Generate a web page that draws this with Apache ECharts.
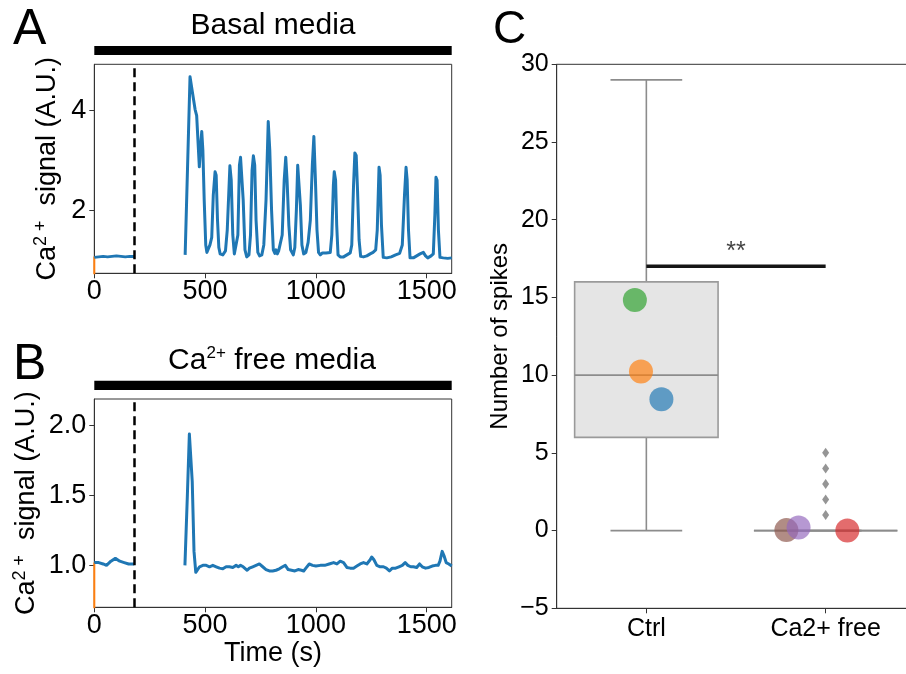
<!DOCTYPE html>
<html>
<head>
<meta charset="utf-8">
<script src="https://cdn.jsdelivr.net/npm/echarts@6/dist/echarts.min.js"></script>
<style>
  html, body { margin: 0; padding: 0; background: #fff; }
  #chart { width: 906px; height: 674px; }
</style>
</head>
<body>
<div id="chart"></div>
<script>
// ---------------- DATA ----------------
// Panel A: Basal media trace [time (s), Ca2+ signal (A.U.)]
const basalPre = [[0,1.05],[20,1.06],[40,1.07],[60,1.06],[80,1.07],[100,1.08],[120,1.07],[140,1.06],[160,1.07],[180,1.07]];
const basalPost = [
  [410,1.10],[432,4.68],[440,4.45],[455,4.02],[462,3.90],[474,2.87],[480,3.30],[485,3.58],[490,3.20],[496,2.20],
  [503,1.30],[508,1.15],[515,1.18],[522,1.30],[530,1.45],[537,2.30],[545,2.77],[550,2.70],[556,1.80],[562,1.25],
  [568,1.12],[580,1.10],[592,1.18],[600,1.60],[612,2.89],[618,2.60],[625,1.50],[632,1.12],[640,1.10],[648,1.50],
  [655,2.90],[660,3.06],[666,3.08],[672,2.20],[680,1.20],[688,1.06],[698,1.10],[705,1.50],[712,2.80],[718,3.09],
  [724,2.90],[730,1.80],[738,1.15],[746,1.08],[756,1.10],[765,1.30],[775,2.20],[785,3.78],[792,3.20],[800,2.00],
  [808,1.20],[815,1.13],[820,1.20],[826,1.12],[832,1.18],[840,1.15],[848,1.50],[857,2.60],[864,3.06],[870,2.60],
  [878,1.70],[886,1.20],[898,1.10],[905,1.25],[912,2.00],[918,2.90],[924,2.93],[930,2.10],[937,1.30],[945,1.12],
  [955,1.15],[965,1.35],[975,1.80],[984,2.90],[991,3.48],[998,2.60],[1005,1.60],[1012,1.15],[1020,1.10],[1030,1.14],
  [1038,1.12],[1046,1.14],[1055,1.12],[1065,1.15],[1072,1.50],[1079,2.50],[1083,2.77],[1089,2.60],[1094,1.70],[1100,1.10],
  [1110,1.06],[1125,1.06],[1140,1.10],[1155,1.14],[1162,1.30],[1170,2.50],[1176,3.15],[1182,3.10],[1188,2.40],[1195,1.40],
  [1202,1.07],[1215,1.06],[1230,1.08],[1245,1.12],[1258,1.15],[1270,1.20],[1277,1.60],[1285,2.86],[1290,2.70],[1296,1.70],
  [1304,1.05],[1320,1.04],[1340,1.06],[1360,1.10],[1378,1.13],[1390,1.30],[1400,2.30],[1407,2.86],[1412,2.60],[1418,1.60],
  [1425,1.04],[1440,1.04],[1455,1.08],[1470,1.12],[1485,1.15],[1495,1.08],[1505,1.04],[1520,1.08],[1530,1.12],[1537,1.90],
  [1542,2.66],[1547,2.60],[1553,1.60],[1560,1.05],[1575,1.04],[1595,1.03],[1613,1.04]
];
const basalOrange = [[0,0.5],[0,1.07]];

// Panel B: Ca2+ free media trace
const freePre = [[0,1.02],[20,1.02],[40,1.01],[55,1.00],[75,1.03],[95,1.05],[115,1.03],[135,1.02],[155,1.01],[180,1.01]];
const freePost = [
  [409,1.00],[420,1.50],[429,1.94],[437,1.94],[442,1.60],[450,1.10],[458,0.95],[465,0.95],[475,0.99],[490,1.00],
  [505,1.00],[520,0.99],[535,1.00],[550,0.99],[565,0.98],[580,0.975],[595,0.99],[610,0.99],[625,0.985],[640,1.00],
  [650,0.99],[660,1.00],[672,0.99],[680,1.00],[690,0.965],[700,0.98],[715,0.99],[730,1.00],[745,1.01],[760,0.99],
  [775,0.97],[790,0.96],[805,0.96],[820,0.965],[835,0.975],[850,0.99],[862,1.00],[875,0.97],[890,0.965],[905,0.96],
  [920,0.97],[935,0.965],[945,0.96],[955,0.98],[970,1.01],[985,1.00],[1000,0.995],[1020,1.00],[1040,1.00],[1060,1.01],
  [1080,1.02],[1095,1.01],[1110,1.03],[1125,1.02],[1140,0.985],[1155,0.98],[1170,0.98],[1185,0.995],[1200,1.01],[1215,1.02],
  [1230,1.01],[1245,1.04],[1252,1.06],[1262,1.04],[1275,1.00],[1290,0.99],[1305,0.99],[1318,0.98],[1332,0.96],[1345,0.98],
  [1360,0.98],[1375,0.99],[1390,1.00],[1403,1.02],[1415,1.00],[1428,0.99],[1440,0.99],[1455,0.985],[1468,1.01],[1480,0.99],
  [1495,0.98],[1510,0.985],[1525,0.995],[1540,1.00],[1552,1.00],[1560,1.03],[1570,1.10],[1578,1.07],[1588,1.02],[1600,1.01],
  [1613,0.995]
];
const freeOrange = [[0,0.5],[0,1.02]];
const stimTime = 180;

// Panel C: number of spikes
const groups = ['Ctrl', 'Ca2+ free'];
// [whiskerLow, Q1, median, Q3, whiskerHigh]
const boxStats = [[0, 6, 10, 16, 29], [0, 0, 0, 0, 0]];
const outliers = [[1,1],[1,2],[1,3],[1,4],[1,5]];
// individual experiment means [x (category + jitter), value]
const dotPoints = [
  [-0.064, 14.84], [-0.030, 10.23], [0.084, 8.45],
  [0.781, 0.03], [0.849, 0.2], [1.121, 0.0]
];
const dotColors = ['#2ca02c', '#ff7f0e', '#1f77b4', '#8c564b', '#9467bd', '#d62728'];
const sigBar = [[0, 17], [1, 17]];
const sigLabel = '**';
const xTicksTime = [0, 500, 1000, 1500];
const yTicksA = [2, 4];
const yTicksB = [1.0, 1.5, 2.0];

// ---------------- CHART ----------------
const FF = "'Liberation Sans', Arial, Helvetica, sans-serif";
const spine = '#333333';
const chart = echarts.init(document.getElementById('chart'), null, { renderer: 'canvas' });

function timeXAxis(gridIndex, extra) {
  return Object.assign({
    gridIndex, type: 'value', min: 0, max: 1613,
    axisLine: { show: true, onZero: false, lineStyle: { color: spine, width: 1 } },
    axisTick: { show: true, length: 5, lineStyle: { color: spine }, customValues: xTicksTime },
    axisLabel: { fontSize: 27, color: '#000', margin: 5, fontFamily: FF, customValues: xTicksTime, formatter: v => String(v) },
    splitLine: { show: false }
  }, extra || {});
}

const supRich = {
  a: { fontSize: 27, fontFamily: FF, color: '#000', lineHeight: 30 },
  s: { fontSize: 18, fontFamily: FF, color: '#000', verticalAlign: 'top', lineHeight: 18 }
};

const option = {
  animation: false,
  backgroundColor: '#fff',
  textStyle: { fontFamily: FF },
  grid: [
    { left: 94.3, top: 64.3, width: 357.4, height: 209, outerBoundsMode: 'none', containLabel: false, show: true, borderColor: spine, borderWidth: 1, backgroundColor: 'transparent' },
    { left: 94.3, top: 399, width: 357.4, height: 208.3, outerBoundsMode: 'none', containLabel: false, show: true, borderColor: spine, borderWidth: 1, backgroundColor: 'transparent' },
    { left: 556.7, top: 64.3, width: 358.6, height: 544, outerBoundsMode: 'none', containLabel: false, show: true, borderColor: spine, borderWidth: 1, backgroundColor: 'transparent' }
  ],
  xAxis: [
    timeXAxis(0),
    timeXAxis(1, { name: 'Time (s)', nameLocation: 'middle', nameGap: 33, nameTextStyle: { fontSize: 27, color: '#000', fontFamily: FF } }),
    {
      gridIndex: 2, type: 'category', data: groups, boundaryGap: true,
      axisLine: { show: true, onZero: false, lineStyle: { color: spine } },
      axisTick: { show: true, alignWithLabel: true, length: 5, lineStyle: { color: spine } },
      axisLabel: { fontSize: 25, color: '#000', margin: 8, fontFamily: FF },
      splitLine: { show: false }
    },
    { gridIndex: 2, type: 'value', min: -0.5, max: 1.5, show: false, axisLine: { onZero: false }, splitLine: { show: false } }
  ],
  yAxis: [
    {
      gridIndex: 0, type: 'value', min: 0.73, max: 4.93,
      axisLine: { show: true, onZero: false, lineStyle: { color: spine } },
      axisTick: { show: true, length: 5, lineStyle: { color: spine }, customValues: yTicksA },
      axisLabel: { fontSize: 27, color: '#000', margin: 8, fontFamily: FF, customValues: yTicksA },
      splitLine: { show: false },
      name: '{a|Ca}{s|2 +}{a|  signal (A.U.)}', nameLocation: 'middle', nameGap: 32,
      nameTextStyle: { rich: supRich }
    },
    {
      gridIndex: 1, type: 'value', min: 0.70, max: 2.19,
      axisLine: { show: true, onZero: false, lineStyle: { color: spine } },
      axisTick: { show: true, length: 5, lineStyle: { color: spine }, customValues: yTicksB },
      axisLabel: { fontSize: 27, color: '#000', margin: 8, fontFamily: FF, customValues: yTicksB, formatter: v => Number(v).toFixed(1) },
      splitLine: { show: false },
      name: '{a|Ca}{s|2 +}{a|  signal (A.U.)}', nameLocation: 'middle', nameGap: 53,
      nameTextStyle: { rich: supRich }
    },
    {
      gridIndex: 2, type: 'value', min: -5, max: 30, interval: 5,
      axisLine: { show: true, onZero: false, lineStyle: { color: spine } },
      axisTick: { show: true, length: 5, lineStyle: { color: spine } },
      axisLabel: { fontSize: 25, color: '#000', margin: 8, fontFamily: FF, formatter: v => v < 0 ? '\u2212' + Math.abs(v) : String(v) },
      splitLine: { show: false },
      name: 'Number of spikes', nameLocation: 'middle', nameGap: 44,
      nameTextStyle: { fontSize: 24, color: '#000', fontFamily: FF }
    }
  ],
  series: [
    // Panel A
    { type: 'line', xAxisIndex: 0, yAxisIndex: 0, data: basalOrange, symbol: 'none', lineStyle: { color: '#ff7f0e', width: 2 }, z: 2 },
    { type: 'line', xAxisIndex: 0, yAxisIndex: 0, data: basalPre, symbol: 'none', lineStyle: { color: '#1f77b4', width: 3 }, z: 3,
      markLine: { silent: true, symbol: 'none', label: { show: false }, lineStyle: { color: '#000', width: 2.5, type: [9, 5] }, data: [{ xAxis: stimTime }] } },
    { type: 'line', xAxisIndex: 0, yAxisIndex: 0, data: basalPost, symbol: 'none', lineStyle: { color: '#1f77b4', width: 3, join: 'round' }, z: 3 },
    // Panel B
    { type: 'line', xAxisIndex: 1, yAxisIndex: 1, data: freeOrange, symbol: 'none', lineStyle: { color: '#ff7f0e', width: 2 }, z: 2 },
    { type: 'line', xAxisIndex: 1, yAxisIndex: 1, data: freePre, symbol: 'none', lineStyle: { color: '#1f77b4', width: 3 }, z: 3,
      markLine: { silent: true, symbol: 'none', label: { show: false }, lineStyle: { color: '#000', width: 2.5, type: [9, 5] }, data: [{ xAxis: stimTime }] } },
    { type: 'line', xAxisIndex: 1, yAxisIndex: 1, data: freePost, symbol: 'none', lineStyle: { color: '#1f77b4', width: 3, join: 'round' }, z: 3 },
    // Panel C box plot
    {
      type: 'custom', xAxisIndex: 3, yAxisIndex: 2, z: 2,
      data: boxStats.map((s, i) => [i].concat(s)),
      renderItem: function (params, api) {
        const i = api.value(0);
        const lo = api.coord([i, api.value(1)]);
        const q1 = api.coord([i, api.value(2)]);
        const med = api.coord([i, api.value(3)]);
        const q3 = api.coord([i, api.value(4)]);
        const hi = api.coord([i, api.value(5)]);
        const band = api.size([1, 0])[0];
        const hw = band * 0.4, cw = band * 0.2;
        const cx = med[0];
        const st = { stroke: '#8c8c8c', lineWidth: 1.6 };
        return {
          type: 'group',
          children: [
            { type: 'line', shape: { x1: cx, y1: q1[1], x2: cx, y2: lo[1] }, style: st },
            { type: 'line', shape: { x1: cx, y1: q3[1], x2: cx, y2: hi[1] }, style: st },
            { type: 'line', shape: { x1: cx - cw, y1: lo[1], x2: cx + cw, y2: lo[1] }, style: st },
            { type: 'line', shape: { x1: cx - cw, y1: hi[1], x2: cx + cw, y2: hi[1] }, style: st },
            { type: 'rect', shape: { x: cx - hw, y: q3[1], width: 2 * hw, height: q1[1] - q3[1] }, style: { fill: '#e5e5e5', stroke: '#9a9a9a', lineWidth: 1.6 } },
            { type: 'line', shape: { x1: cx - hw, y1: med[1], x2: cx + hw, y2: med[1] }, style: st }
          ]
        };
      }
    },
    { type: 'scatter', xAxisIndex: 3, yAxisIndex: 2, data: outliers, symbol: 'diamond', symbolSize: [7, 10], itemStyle: { color: '#7a7a7a' }, z: 3 },
    {
      type: 'scatter', xAxisIndex: 3, yAxisIndex: 2, z: 4,
      data: dotPoints.map((p, i) => ({ value: p, itemStyle: { color: dotColors[i], opacity: 0.68 } })),
      symbolSize: 24
    },
    { type: 'line', xAxisIndex: 3, yAxisIndex: 2, data: sigBar, symbol: 'none', lineStyle: { color: '#151515', width: 3.5 }, z: 5 },
    {
      type: 'scatter', xAxisIndex: 3, yAxisIndex: 2, data: [[(sigBar[0][0] + sigBar[1][0]) / 2, sigBar[0][1]]],
      symbolSize: 0, z: 6,
      label: { show: true, formatter: sigLabel, position: 'top', distance: 2, fontSize: 25, color: '#111', fontFamily: FF }
    }
  ],
  graphic: [
    { type: 'text', left: 13, top: 5, style: { text: 'A', fontSize: 50, fontFamily: FF, fill: '#000' } },
    { type: 'text', left: 13, top: 340, style: { text: 'B', fontSize: 50, fontFamily: FF, fill: '#000' } },
    { type: 'text', left: 493, top: 7, style: { text: 'C', fontSize: 46, fontFamily: FF, fill: '#000' } },
    { type: 'rect', shape: { x: 94.3, y: 46, width: 357.4, height: 9 }, style: { fill: '#000' } },
    { type: 'rect', shape: { x: 94.3, y: 380.7, width: 357.4, height: 9.3 }, style: { fill: '#000' } },
    { type: 'text', x: 273, y: 26, style: { text: 'Basal media', fontSize: 30, fontFamily: FF, fill: '#000', align: 'center', verticalAlign: 'middle' } },
    { type: 'text', x: 272, y: 361, style: {
        text: '{a|Ca}{s|2+}{a| free media}', align: 'center', verticalAlign: 'middle',
        rich: { a: { fontSize: 30, fontFamily: FF, fill: '#000', lineHeight: 32 }, s: { fontSize: 17, fontFamily: FF, fill: '#000', verticalAlign: 'top', lineHeight: 17 } } } }
  ]
};
chart.setOption(option);
</script>
</body>
</html>
